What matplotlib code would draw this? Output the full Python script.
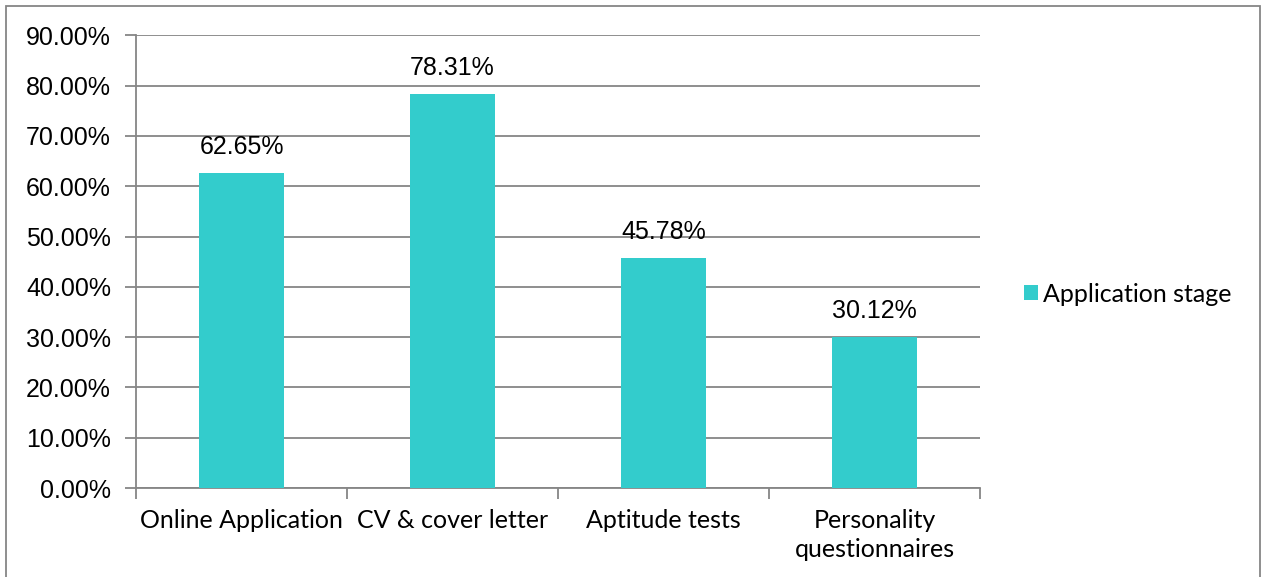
import matplotlib.pyplot as plt
from matplotlib.patches import Rectangle

categories = ["Online Application", "CV & cover letter", "Aptitude tests", "Personality\nquestionnaires"]
values = [62.65, 78.31, 45.78, 30.12]
series_name = "Application stage"
yticks = [0, 10, 20, 30, 40, 50, 60, 70, 80, 90]

bar_color = "#33CCCC"
line_color = "#868686"

fig = plt.figure(figsize=(12.63, 5.77), dpi=100)
ax = fig.add_axes([0.1077, 0.154, 0.6683, 0.785])

x = list(range(len(categories)))
ax.bar(x, values, width=0.4, color=bar_color, zorder=3, label=series_name)
for xi, v in zip(x, values):
    ax.text(xi, v + 2.7, f"{v:.2f}%", ha="center", va="bottom",
            fontsize=18, family="Liberation Sans", color="black")

ax.set_xlim(-0.5, len(categories) - 0.5)
ax.set_ylim(0, 90)
ax.set_yticks(yticks)
ax.set_yticklabels([f"{t:.2f}%" for t in yticks], family="Liberation Sans", fontsize=18)
ax.yaxis.grid(True, color=line_color, linewidth=1.3, zorder=0)
ax.tick_params(axis="y", length=8, width=1.3, color=line_color, pad=10)

# category labels between boundary ticks
ax.set_xticks([i - 0.5 for i in range(len(categories) + 1)])
ax.set_xticklabels([])
ax.tick_params(axis="x", length=8, width=1.3, color=line_color)
for xi, c in zip(x, categories):
    ax.text(xi, -4.2, c, ha="center", va="top", fontsize=18,
            family="Lato", color="black", linespacing=1.3)

for s in ["top", "right"]:
    ax.spines[s].set_visible(False)
for s in ["left", "bottom"]:
    ax.spines[s].set_color(line_color)
    ax.spines[s].set_linewidth(1.3)

leg = fig.legend(loc="center left", bbox_to_anchor=(0.793, 0.49), frameon=False,
                 prop={"family": "Lato", "size": 18}, handlelength=0.55,
                 handleheight=0.55, handletextpad=0.2)

fig.patches.append(Rectangle((0.005, -0.01), 0.993, 1.0, transform=fig.transFigure,
                             fill=False, edgecolor=line_color, linewidth=1.3))

fig.savefig("out.png", dpi=100)
